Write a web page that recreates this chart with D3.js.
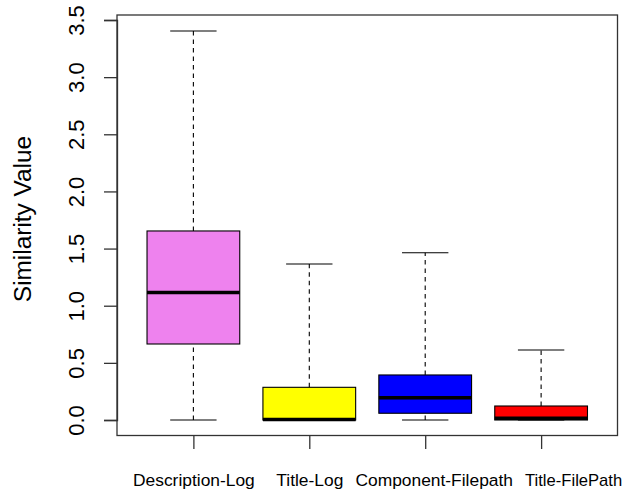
<!DOCTYPE html>
<html>
<head>
<meta charset="utf-8">
<script src="https://cdn.jsdelivr.net/npm/d3@7"></script>
<style>
  html, body { margin: 0; padding: 0; background: #fff; }
  svg { display: block; font-family: "Liberation Sans", Arial, sans-serif; }
</style>
</head>
<body>
<svg id="chart" width="628" height="494"></svg>
<script>
// Box-plot summaries per comparison pair
const categories = ["Description-Log", "Title-Log", "Component-Filepath", "Title-FilePath"];
const whiskerLow  = [0.00, 0.00, 0.00, 0.00];
const quartile1   = [0.665, 0.00, 0.059, 0.00];
const medians     = [1.111, 0.00, 0.19, 0.01];
const quartile3   = [1.654, 0.286, 0.394, 0.1225];
const whiskerHigh = [3.404, 1.365, 1.464, 0.6125];
const fills       = ["#EE82EE", "#FFFF00", "#0000FF", "#FF0000"];
const yTicks      = [0, 0.5, 1, 1.5, 2, 2.5, 3, 3.5];

const svg = d3.select("#chart");
const plot = { left: 117, right: 617.5, top: 15, bottom: 435.5 };

// horizontal nudge of the category labels so the long names don't collide
const labelNudge = [0, 0, 8.5, 32];

const y = d3.scaleLinear().domain([0, 3.5]).range([420, 20]);
const x = d3.scalePoint().domain(categories).range([plot.left, plot.right]).padding(0.659);
const step = x.step();
const boxW = step * 0.8;
const capW = boxW / 2;

const rows = categories.map((c, i) => ({
  cat: c, lo: whiskerLow[i], q1: quartile1[i], med: medians[i],
  q3: quartile3[i], hi: whiskerHigh[i], fill: fills[i]
}));

// Whiskers (dashed) and caps
const g = svg.append("g");
rows.forEach(d => {
  const cx = x(d.cat);
  if (d.hi > d.q3) {
    g.append("line").attr("x1", cx).attr("x2", cx)
      .attr("y1", y(d.q3)).attr("y2", y(d.hi))
      .attr("stroke", "#000").attr("stroke-width", 1.1).attr("stroke-dasharray", "4.5,4");
  }
  if (d.q1 > d.lo) {
    g.append("line").attr("x1", cx).attr("x2", cx)
      .attr("y1", y(d.lo)).attr("y2", y(d.q1))
      .attr("stroke", "#000").attr("stroke-width", 1.1).attr("stroke-dasharray", "4.5,4");
  }
  [d.hi, d.lo].forEach(v => {
    g.append("line").attr("x1", cx - capW / 2).attr("x2", cx + capW / 2)
      .attr("y1", y(v)).attr("y2", y(v))
      .attr("stroke", "#000").attr("stroke-width", 1.1);
  });
});

// Boxes
g.selectAll("rect.box").data(rows).join("rect")
  .attr("class", "box")
  .attr("x", d => x(d.cat) - boxW / 2)
  .attr("width", boxW)
  .attr("y", d => y(d.q3))
  .attr("height", d => y(d.q1) - y(d.q3))
  .attr("fill", d => d.fill)
  .attr("stroke", "#000")
  .attr("stroke-width", 1.1);

// Medians
g.selectAll("line.med").data(rows).join("line")
  .attr("class", "med")
  .attr("x1", d => x(d.cat) - boxW / 2)
  .attr("x2", d => x(d.cat) + boxW / 2)
  .attr("y1", d => y(d.med) - 0.5)
  .attr("y2", d => y(d.med) - 0.5)
  .attr("stroke", "#000")
  .attr("stroke-width", 3.5);

// Plot frame
svg.append("rect")
  .attr("x", plot.left).attr("y", plot.top)
  .attr("width", plot.right - plot.left).attr("height", plot.bottom - plot.top)
  .attr("fill", "none").attr("stroke", "#333").attr("stroke-width", 1.3);

// Y axis
const yAxis = svg.append("g")
  .attr("transform", `translate(${plot.left},0)`)
  .call(d3.axisLeft(y).tickValues(yTicks).tickSize(13).tickFormat(d3.format(".1f")));
yAxis.select(".domain").attr("stroke", "#333").attr("stroke-width", 1.3);
yAxis.selectAll(".tick line").attr("stroke", "#333").attr("stroke-width", 1.3);
yAxis.selectAll(".tick text")
  .attr("x", null).attr("dy", null)
  .attr("transform", `translate(${83.5 - plot.left},0) rotate(-90)`)
  .attr("text-anchor", "middle")
  .attr("font-family", "Liberation Sans, Arial, sans-serif")
  .attr("font-size", 22)
  .attr("fill", "#000");

// X axis
const xAxis = svg.append("g")
  .attr("transform", `translate(0,${plot.bottom})`)
  .call(d3.axisBottom(x).tickSize(13.5));
xAxis.select(".domain").remove();
xAxis.selectAll(".tick line").attr("stroke", "#333").attr("stroke-width", 1.3);
xAxis.selectAll(".tick text")
  .attr("y", 486 - plot.bottom).attr("dy", null)
  .attr("x", (d, i) => labelNudge[i])
  .attr("text-anchor", "middle")
  .attr("font-family", "Liberation Sans, Arial, sans-serif")
  .attr("font-size", (d, i) => i === 3 ? 16.6 : 17.4)
  .attr("fill", "#000");

// Y title
svg.append("text")
  .attr("transform", "translate(31,219) rotate(-90)")
  .attr("text-anchor", "middle")
  .attr("font-size", 24.4)
  .attr("fill", "#000")
  .text("Similarity Value");
</script>
</body>
</html>
